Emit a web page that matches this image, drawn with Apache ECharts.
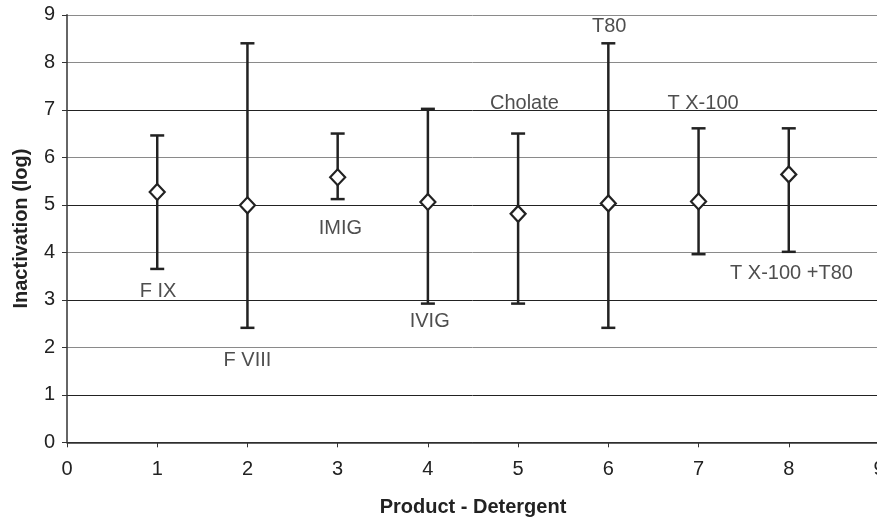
<!DOCTYPE html>
<html>
<head>
<meta charset="utf-8">
<script src="https://cdn.jsdelivr.net/npm/echarts@6/dist/echarts.min.js"></script>
<style>
html,body{margin:0;padding:0;background:#fff;}
#chart{width:877px;height:519px;}
</style>
</head>
<body>
<div id="chart"></div>
<script>
// Data
const products = [1, 2, 3, 4, 5, 6, 7, 8];
const means = [5.27, 4.99, 5.58, 5.06, 4.81, 5.03, 5.07, 5.64];
const lows  = [3.65, 2.41, 5.12, 2.92, 2.92, 2.41, 3.96, 4.01];
const highs = [6.46, 8.40, 6.50, 7.02, 6.50, 8.40, 6.61, 6.61];
const labelNames = ['F IX', 'F VIII', 'IMIG', 'IVIG', 'Cholate', 'T80', 'T X-100', 'T X-100 +T80'];
const labelX = [1.01, 2.00, 3.03, 4.02, 5.07, 6.01, 7.05, 8.03];
const labelY = [3.18, 1.73, 4.50, 2.54, 7.14, 8.75, 7.14, 3.56];
const xTicks = [0, 1, 2, 3, 4, 5, 6, 7, 8, 9];
const yTicks = [0, 1, 2, 3, 4, 5, 6, 7, 8, 9];

const font = 'Liberation Sans, Arial, sans-serif';
const chart = echarts.init(document.getElementById('chart'), null, {renderer: 'canvas'});

const errData = products.map((p, i) => [p, lows[i], highs[i]]);
const meanData = products.map((p, i) => [p, means[i]]);
const labelData = labelNames.map((n, i) => ({value: [labelX[i], labelY[i]], name: n}));

chart.setOption({
  animation: false,
  backgroundColor: '#fff',
  grid: {left: 67, right: -2, top: 14.8, bottom: 76.7, containLabel: false, outerBoundsMode: 'none'},
  xAxis: {
    type: 'value', min: 0, max: 9, interval: 1,
    name: 'Product - Detergent', nameLocation: 'middle', nameGap: 55,
    nameTextStyle: {fontFamily: font, fontSize: 20, fontWeight: 'bold', color: '#222'},
    axisLine: {show: true, lineStyle: {color: '#333', width: 1.5}},
    axisTick: {show: true, length: 5, lineStyle: {color: '#333'}},
    axisLabel: {fontFamily: font, fontSize: 20, color: '#222', margin: 17,
      formatter: v => xTicks.includes(v) ? String(v) : ''},
    splitLine: {show: false}
  },
  yAxis: {
    type: 'value', min: 0, max: 9, interval: 1,
    name: 'Inactivation (log)', nameLocation: 'middle', nameGap: 36,
    nameTextStyle: {fontFamily: font, fontSize: 20, fontWeight: 'bold', color: '#222'},
    axisLine: {show: true, lineStyle: {color: '#333', width: 1.5}},
    axisTick: {show: true, length: 5, lineStyle: {color: '#333'}},
    axisLabel: {fontFamily: font, fontSize: 20, color: '#222', margin: 12,
      formatter: v => yTicks.includes(v) ? String(v) : ''},
    splitLine: {show: true, lineStyle: {width: 1,
      color: ['#222', '#222', '#8a8a8a', '#222', '#8a8a8a', '#222', '#8a8a8a', '#222', '#8a8a8a', '#8a8a8a']}}
  },
  series: [
    {
      type: 'custom',
      data: errData,
      z: 3,
      renderItem: function (params, api) {
        const x = api.value(0);
        const lo = api.coord([x, api.value(1)]);
        const hi = api.coord([x, api.value(2)]);
        const cw = 7;
        const style = {stroke: '#222', lineWidth: 2.5};
        return {
          type: 'group',
          children: [
            {type: 'line', shape: {x1: lo[0], y1: lo[1], x2: hi[0], y2: hi[1]}, style: style},
            {type: 'line', shape: {x1: lo[0] - cw, y1: lo[1], x2: lo[0] + cw, y2: lo[1]}, style: style},
            {type: 'line', shape: {x1: hi[0] - cw, y1: hi[1], x2: hi[0] + cw, y2: hi[1]}, style: style}
          ]
        };
      }
    },
    {
      type: 'scatter',
      data: meanData,
      symbol: 'diamond',
      symbolSize: [15, 16],
      z: 4,
      itemStyle: {color: '#fff', borderColor: '#222', borderWidth: 2.2, opacity: 1}
    },
    {
      type: 'scatter',
      data: labelData,
      symbolSize: 0,
      z: 5,
      label: {show: true, position: 'inside', formatter: p => p.name,
        fontFamily: font, fontSize: 20, color: '#222'}
    }
  ]
});
</script>
</body>
</html>
